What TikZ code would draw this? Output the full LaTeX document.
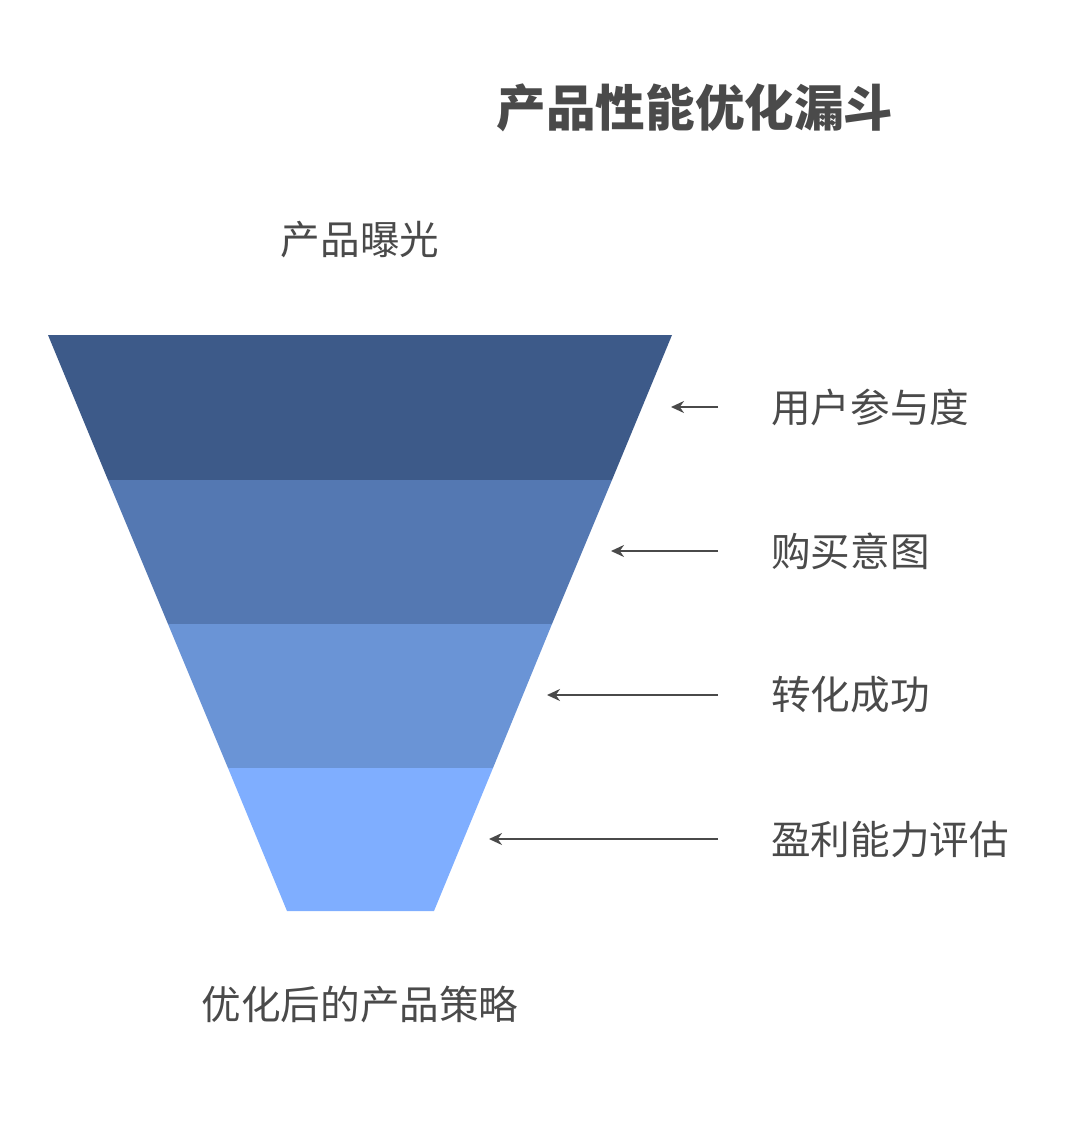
\documentclass[tikz,border=0pt]{standalone}
\usepackage{fontspec}
\setmainfont{Noto Sans CJK SC}
\newfontfamily\cjk{Noto Sans CJK SC}
\usetikzlibrary{arrows.meta}
\definecolor{bandA}{HTML}{3D5A89}
\definecolor{bandB}{HTML}{5478B2}
\definecolor{bandC}{HTML}{6A94D6}
\definecolor{bandD}{HTML}{7FAEFF}
\definecolor{txt}{HTML}{4A4A4A}
\tikzset{
  lbl/.style={font=\cjk\fontsize{39.6}{44}\selectfont, text=txt, inner sep=0pt},
  sidelbl/.style={lbl, anchor=west},
  ttl/.style={font=\cjk\bfseries\fontsize{49.6}{56}\selectfont, text=txt, inner sep=0pt},
  pointer/.style={draw=txt, line width=2pt, -{Stealth[length=13pt,width=12pt]}},
}
\begin{document}
\begin{tikzpicture}[x=1pt,y=-1pt]
\useasboundingbox (0,0) rectangle (1080,1127);
% funnel bands
\fill[bandA] (48,335) -- (672,335) -- (612,480) -- (108,480) -- cycle;
\fill[bandB] (108,480) -- (612,480) -- (552,624) -- (168,624) -- cycle;
\fill[bandC] (168,624) -- (552,624) -- (493,768) -- (228,768) -- cycle;
\fill[bandD] (228,768) -- (493,768) -- (434,911) -- (287,911) -- cycle;
% targets
\coordinate (t1) at (671,407);
\coordinate (t2) at (611,551);
\coordinate (t3) at (547,695);
\coordinate (t4) at (489,839);
\coordinate (s1) at (718,407);
\coordinate (s2) at (718,551);
\coordinate (s3) at (718,695);
\coordinate (s4) at (718,839);
% title and labels
\node[ttl] (title) at (695,108) {产品性能优化漏斗};
\node[lbl] (top) at (360,240) {产品曝光};
\node[lbl] (bottom) at (360,1004) {优化后的产品策略};
\node[sidelbl] (l1) at (771,407) {用户参与度};
\node[sidelbl] (l2) at (771,551) {购买意图};
\node[sidelbl] (l3) at (771,695) {转化成功};
\node[sidelbl] (l4) at (771,839) {盈利能力评估};
% arrows
\draw[pointer] (s1) -- (t1);
\draw[pointer] (s2) -- (t2);
\draw[pointer] (s3) -- (t3);
\draw[pointer] (s4) -- (t4);
\end{tikzpicture}
\end{document}
